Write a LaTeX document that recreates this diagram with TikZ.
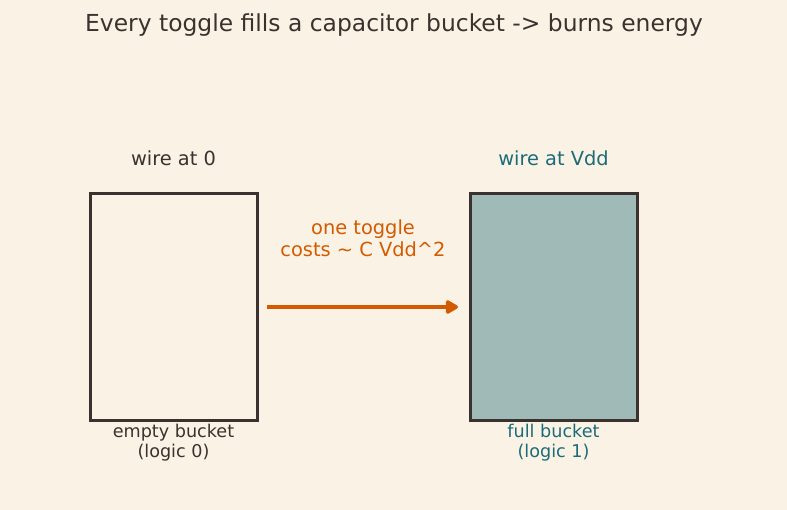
\documentclass[tikz,border=0pt]{standalone}
\usepackage{fontspec}
\setmainfont{DejaVu Sans}
\usetikzlibrary{arrows.meta}
\definecolor{paper}{HTML}{FAF3E5}
\definecolor{ink}{HTML}{3A322E}
\definecolor{burnt}{HTML}{D35A00}
\definecolor{tealink}{HTML}{1C6B78}
\definecolor{charge}{HTML}{A0BBB7}
\tikzset{
  bucket/.style={draw=ink, line width=3pt, minimum width=167pt, minimum height=226pt, inner sep=0pt},
  toplabel/.style={font=\fontsize{19.4}{23}\selectfont},
  botlabel/.style={font=\fontsize{17.6}{20}\selectfont, align=center, inner sep=0pt}
}
\begin{document}
\begin{tikzpicture}[x=1pt,y=-1pt]
    \fill[paper] (0,0) rectangle (787,510);
    \useasboundingbox (0,0) rectangle (787,510);
    \node[font=\fontsize{23.4}{27}\selectfont, text=ink] (title) at (394,25) {Every toggle fills a capacitor bucket -> burns energy};
    \node[bucket, fill=paper] (empty) at (173.5,307) {};
    \node[bucket, fill=charge] (full) at (553.5,307) {};
    \node[toplabel, text=ink] (wire0) at (173.5,158) {wire at 0};
    \node[toplabel, text=tealink] (wire1) at (553.5,158) {wire at Vdd};
    \node[botlabel, text=ink] (elabel) at (173.5,443) {empty bucket\\(logic 0)};
    \node[botlabel, text=tealink] (flabel) at (553.5,443) {full bucket\\(logic 1)};
    \coordinate (tail) at (267,307);
    \coordinate (head) at (458,307);
    \draw[burnt, line width=4pt, -{Triangle[length=14pt,width=15pt,round]}] (tail) -- (head);
    \node[font=\fontsize{19.4}{22}\selectfont, text=burnt, align=center] (cost) at (363,238) {one toggle\\costs \char`~{} C Vdd\char`^2};
\end{tikzpicture}
\end{document}
